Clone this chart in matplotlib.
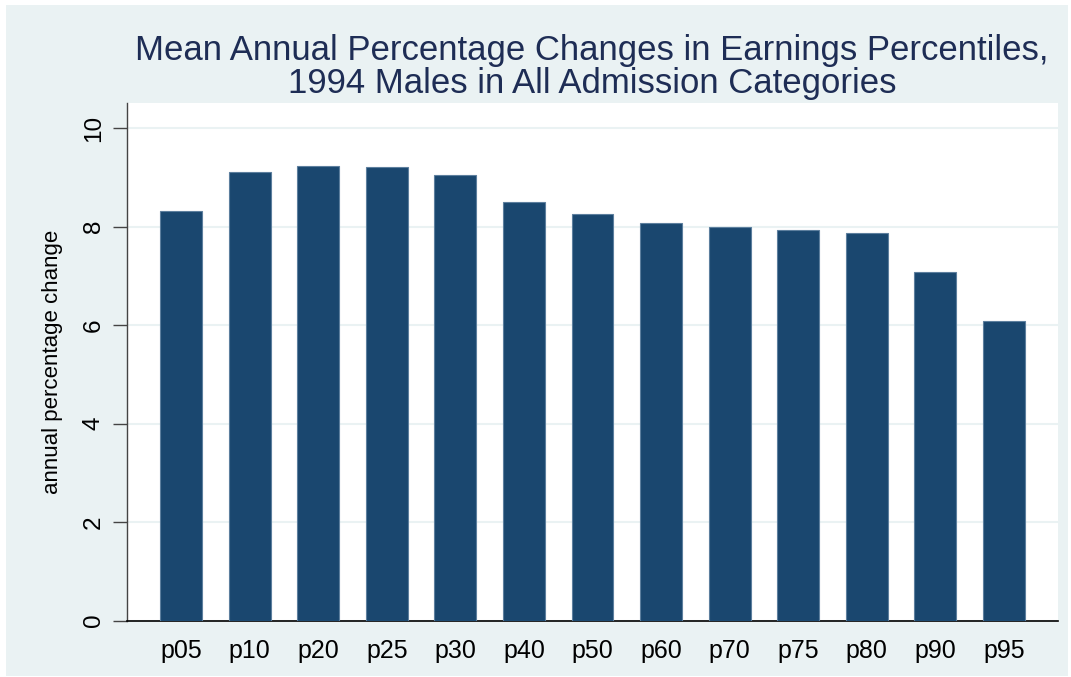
import matplotlib
matplotlib.use("Agg")
import matplotlib.pyplot as plt
from matplotlib.patches import Rectangle

plt.rcParams['font.family'] = ['Liberation Sans', 'DejaVu Sans']

# percentile labels and mean annual % change
percentiles = ["p05", "p10", "p20", "p25", "p30", "p40", "p50",
               "p60", "p70", "p75", "p80", "p90", "p95"]
pct_change = [8.31, 9.11, 9.23, 9.21, 9.05, 8.50, 8.25,
              8.07, 7.99, 7.94, 7.86, 7.08, 6.08]
y_ticks = [0, 2, 4, 6, 8, 10]
title_lines = ["Mean Annual Percentage Changes in Earnings Percentiles,",
               "1994 Males in All Admission Categories"]

W, H = 1071, 677
bg = "#EAF2F3"
navy = "#1A476F"

fig = plt.figure(figsize=(W / 100, H / 100), dpi=100)
fig.patch.set_facecolor("white")
# Stata style outer panel
fig.patches.append(Rectangle((6 / W, 1 - 676 / H), (1068 - 6) / W, (676 - 5) / H,
                             transform=fig.transFigure, facecolor=bg,
                             edgecolor="none", zorder=-5))

ax = fig.add_axes([127 / W, 1 - 620.5 / H, (1058 - 127) / W, (620.5 - 103) / H])
ax.set_zorder(2)
ax.set_facecolor("white")

x = list(range(len(percentiles)))
ax.bar(x, pct_change, width=0.61, color=navy, edgecolor="#5D7F9E",
       linewidth=0.8, zorder=3)

ax.set_xlim(-0.79, len(percentiles) - 1 + 0.79)
ax.set_ylim(0, 10.51)
ax.set_yticks(y_ticks)
ax.set_yticklabels([str(t) for t in y_ticks], rotation=90, va="center")
ax.set_xticks(x)
ax.set_xticklabels(percentiles)
ax.tick_params(axis="x", length=0, pad=13, labelsize=18, colors="black")
ax.tick_params(axis="y", length=10, width=1, pad=6, labelsize=17.5, colors="black")
ax.tick_params(axis="y", color="#444444")

ax.grid(axis="y", color=bg, linewidth=1.5, zorder=1)
ax.set_axisbelow(True)

for s in ["top", "right"]:
    ax.spines[s].set_visible(False)
ax.spines["left"].set_color("#444444")
ax.spines["left"].set_linewidth(1)
ax.spines["bottom"].set_color("black")
ax.spines["bottom"].set_linewidth(1.2)

ax.set_ylabel("annual percentage change", fontsize=16, labelpad=14)

fig.text(592 / W, 1 - 60 / H, title_lines[0], ha="center", va="baseline",
         fontsize=25, color="#1E2D55")
fig.text(592 / W, 1 - 93 / H, title_lines[1], ha="center", va="baseline",
         fontsize=25, color="#1E2D55")

fig.savefig("out.png", dpi=100, facecolor=fig.get_facecolor())
